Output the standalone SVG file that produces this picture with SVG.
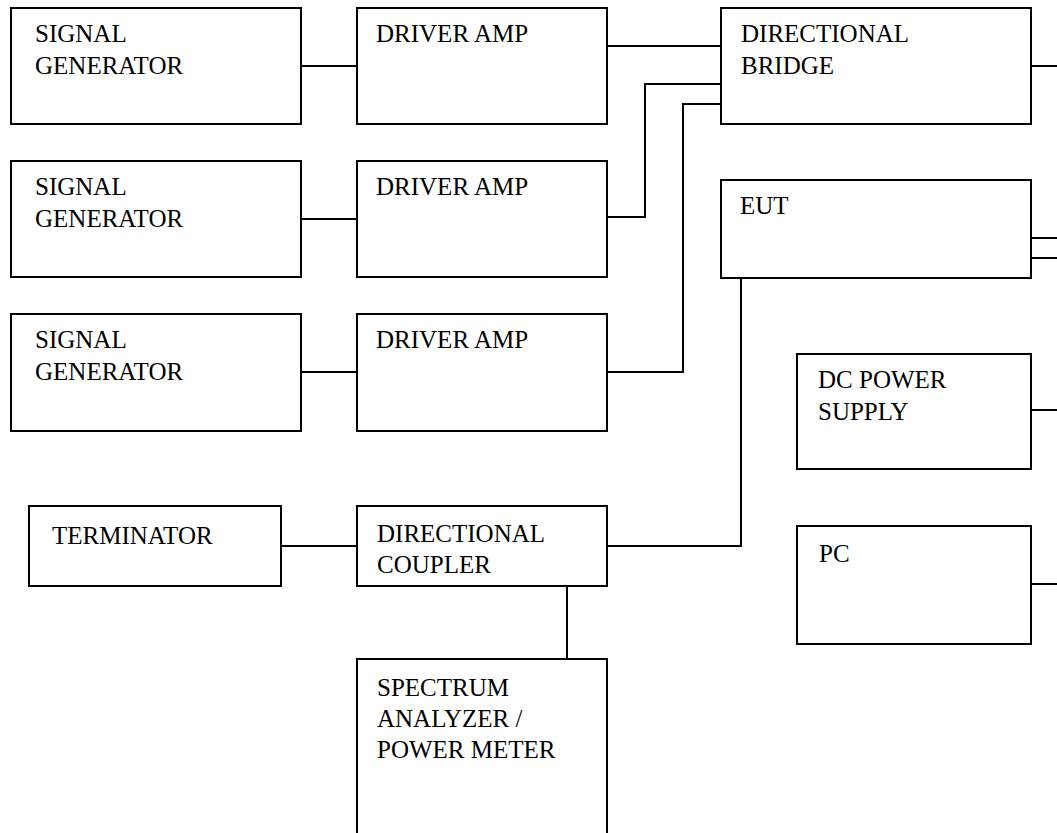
<svg xmlns="http://www.w3.org/2000/svg" width="1057" height="833" viewBox="0 0 1057 833">
<style>
.box{fill:#fff;stroke:#000;stroke-width:2}
.lbl{font-family:"Liberation Serif","Times New Roman",serif;font-size:25px;fill:#000}
.wire{fill:none;stroke:#000;stroke-width:2}
</style>
<rect width="1057" height="833" fill="#fff"/>
<g id="connectors">
<line class="wire" x1="301" y1="66" x2="357" y2="66"/>
<line class="wire" x1="301" y1="219" x2="357" y2="219"/>
<line class="wire" x1="301" y1="372" x2="357" y2="372"/>
<line class="wire" x1="607" y1="46" x2="721" y2="46"/>
<polyline class="wire" points="607,217 645,217 645,84 721,84"/>
<polyline class="wire" points="607,372 683,372 683,104 721,104"/>
<line class="wire" x1="1031" y1="66" x2="1057" y2="66"/>
<line class="wire" x1="1031" y1="238" x2="1057" y2="238"/>
<line class="wire" x1="1031" y1="258" x2="1057" y2="258"/>
<polyline class="wire" points="741,278 741,546 607,546"/>
<line class="wire" x1="281" y1="546" x2="357" y2="546"/>
<line class="wire" x1="567" y1="586" x2="567" y2="659"/>
<line class="wire" x1="1031" y1="410" x2="1057" y2="410"/>
<line class="wire" x1="1031" y1="584" x2="1057" y2="584"/>
</g>
<g id="sg1"><rect class="box" x="11" y="8" width="290" height="116"/><text class="lbl" x="35" y="42">SIGNAL</text><text class="lbl" x="35" y="74">GENERATOR</text></g>
<g id="sg2"><rect class="box" x="11" y="161" width="290" height="116"/><text class="lbl" x="35" y="195">SIGNAL</text><text class="lbl" x="35" y="227">GENERATOR</text></g>
<g id="sg3"><rect class="box" x="11" y="314" width="290" height="117"/><text class="lbl" x="35" y="348">SIGNAL</text><text class="lbl" x="35" y="380">GENERATOR</text></g>
<g id="da1"><rect class="box" x="357" y="8" width="250" height="116"/><text class="lbl" x="376" y="42">DRIVER AMP</text></g>
<g id="da2"><rect class="box" x="357" y="161" width="250" height="116"/><text class="lbl" x="376" y="195">DRIVER AMP</text></g>
<g id="da3"><rect class="box" x="357" y="314" width="250" height="117"/><text class="lbl" x="376" y="348">DRIVER AMP</text></g>
<g id="bridge"><rect class="box" x="721" y="8" width="310" height="116"/><text class="lbl" x="741" y="42">DIRECTIONAL</text><text class="lbl" x="741" y="74">BRIDGE</text></g>
<g id="eut"><rect class="box" x="721" y="180" width="310" height="98"/><text class="lbl" x="740" y="214">EUT</text></g>
<g id="dcps"><rect class="box" x="797" y="354" width="234" height="115"/><text class="lbl" x="818" y="388">DC POWER</text><text class="lbl" x="818" y="420">SUPPLY</text></g>
<g id="pc"><rect class="box" x="797" y="526" width="234" height="118"/><text class="lbl" x="819" y="562">PC</text></g>
<g id="term"><rect class="box" x="29" y="506" width="252" height="80"/><text class="lbl" x="52" y="544">TERMINATOR</text></g>
<g id="coupler"><rect class="box" x="357" y="506" width="250" height="80"/><text class="lbl" x="377" y="542">DIRECTIONAL</text><text class="lbl" x="377" y="573">COUPLER</text></g>
<g id="sa"><rect class="box" x="357" y="659" width="250" height="200"/><text class="lbl" x="377" y="696">SPECTRUM</text><text class="lbl" x="377" y="727">ANALYZER /</text><text class="lbl" x="377" y="758">POWER METER</text></g>
</svg>
